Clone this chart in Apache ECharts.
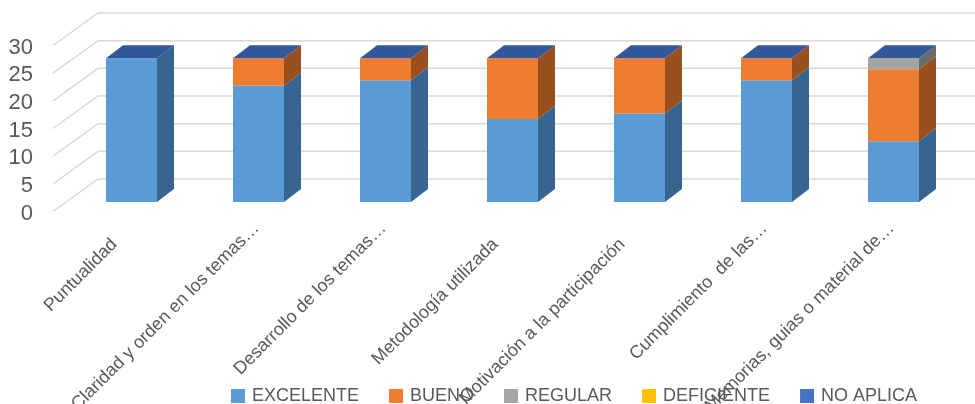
<!DOCTYPE html>
<html>
<head>
<meta charset="utf-8">
<script src="https://cdn.jsdelivr.net/npm/echarts@6/dist/echarts.min.js"></script>
<style>
html,body{margin:0;padding:0;background:#fff;}
#chart{width:975px;height:404px;}
</style>
</head>
<body>
<div id="chart"></div>
<script>
const categories = ['Puntualidad', 'Claridad y orden en los temas…', 'Desarrollo de los temas…', 'Metodología utilizada', 'Motivación a la participación', 'Cumplimiento  de las…', 'Memorias, guias o material de…'];
const truncated = [false, true, true, false, false, true, true];
const excelente = [26, 21, 22, 15, 16, 22, 11];
const bueno = [0, 5, 4, 11, 10, 4, 13];
const regular = [0, 0, 0, 0, 0, 0, 2];
const deficiente = [0, 0, 0, 0, 0, 0, 0];
const noAplica = [0, 0, 0, 0, 0, 0, 0];
const yTicks = [0, 5, 10, 15, 20, 25, 30];

const seriesDefs = [
  {name: 'EXCELENTE', values: excelente, front: '#5B9BD5', side: '#386590', top: '#4A80B3'},
  {name: 'BUENO', values: bueno, front: '#ED7D31', side: '#9A501E', top: '#C0652A'},
  {name: 'REGULAR', values: regular, front: '#A5A5A5', side: '#6B6B6B', top: '#8A8A8A'},
  {name: 'DEFICIENTE', values: deficiente, front: '#FFC000', side: '#A67D00', top: '#D9A300'},
  {name: 'NO APLICA', values: noAplica, front: '#4472C4', side: '#2C4A80', top: '#33589A'}
];

const FONT = '"Liberation Sans", Arial, sans-serif';
const TXT = '#595959';
const DEPTH = [17, -13];

const cum = categories.map(() => 0);
const barSeries = seriesDefs.map((def, si) => {
  const isLast = si === seriesDefs.length - 1;
  const data = def.values.map((v, i) => {
    const b = cum[i];
    cum[i] += v;
    return [i, b, cum[i]];
  });
  return {
    type: 'custom',
    name: def.name,
    itemStyle: {color: def.front},
    encode: {x: 0, y: 2},
    clip: false,
    data: data,
    renderItem: function (params, api) {
      const c = api.value(0), b = api.value(1), t = api.value(2);
      const p0 = api.coord([c, b]);
      const p1 = api.coord([c, t]);
      const band = api.size([1, 0])[0];
      const w = band * 51 / 127;
      const L = p0[0] - w / 2, R = p0[0] + w / 2;
      const yb = p0[1], yt = p1[1];
      const children = [];
      if (yb - yt > 0.01) {
        children.push({type: 'rect', shape: {x: L, y: yt, width: w, height: yb - yt}, style: {fill: def.front}});
        children.push({type: 'polygon', shape: {points: [[R, yb], [R, yt], [R + DEPTH[0], yt + DEPTH[1]], [R + DEPTH[0], yb + DEPTH[1]]]}, style: {fill: def.side}});
      }
      if (isLast) {
        children.push({type: 'polygon', shape: {points: [[L, yt], [R, yt], [R + DEPTH[0], yt + DEPTH[1]], [L + DEPTH[0], yt + DEPTH[1]]]}, style: {fill: def.top}});
      }
      return {type: 'group', children: children};
    }
  };
});

const gridSeries = {
  type: 'custom',
  name: 'grid',
  silent: true,
  clip: false,
  encode: {x: 0, y: 1},
  data: yTicks.map(v => [0, v]),
  renderItem: function (params, api) {
    const cs = params.coordSys;
    const y = api.coord([0, api.value(1)])[1];
    return {
      type: 'polyline',
      shape: {points: [[cs.x - 15, y + 9.5], [cs.x + 30, y - 23], [cs.x + cs.width + 60, y - 23]]},
      style: {stroke: '#D9D9D9', lineWidth: 1.5, fill: null}
    };
  }
};

const chart = echarts.init(document.getElementById('chart'), null, {renderer: 'canvas'});
chart.setOption({
  animation: false,
  backgroundColor: '#ffffff',
  grid: {left: 68, right: 18, top: 36, bottom: 202, containLabel: false, outerBoundsMode: 'none'},
  legend: {
    data: seriesDefs.map(d => d.name),
    left: 231, top: 387,
    itemWidth: 14, itemHeight: 14, itemGap: 30,
    icon: 'rect',
    padding: 0,
    textStyle: {fontSize: 18, color: TXT, fontFamily: FONT, padding: [0, 0, 0, 2]}
  },
  xAxis: {
    type: 'category',
    data: categories,
    axisLine: {show: false},
    axisTick: {show: false},
    splitLine: {show: false},
    axisLabel: {
      interval: 0, rotate: 45, margin: 20,
      formatter: function (val, idx) {
        return '{t|' + val + '}' + (truncated[idx] ? '{e|}' : '{n|}');
      },
      rich: {
        t: {fontSize: 18, color: TXT, fontFamily: FONT, lineHeight: 20, verticalAlign: 'bottom'},
        n: {width: 26, height: 21.5, lineHeight: 21.5},
        e: {width: 4, height: 20, lineHeight: 20}
      }
    }
  },
  yAxis: {
    type: 'value',
    min: 0, max: 30, interval: 5,
    axisLine: {show: false},
    axisTick: {show: false},
    splitLine: {show: false},
    axisLabel: {margin: 35, fontSize: 22, color: TXT, fontFamily: FONT, verticalAlign: 'top', lineHeight: 23}
  },
  series: [gridSeries].concat(barSeries)
});
</script>
</body>
</html>
